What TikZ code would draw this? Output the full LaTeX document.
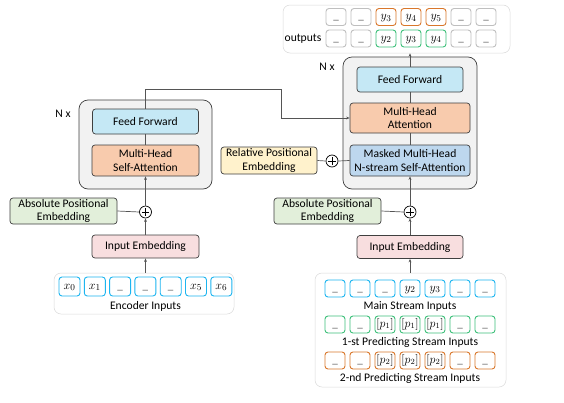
\documentclass[tikz,border=0pt]{standalone}
\usepackage{fontspec}
\setmainfont{Carlito}
\usetikzlibrary{arrows.meta}
\definecolor{bordc}{HTML}{3F3F3F}
\definecolor{linec}{HTML}{555555}
\definecolor{ffblue}{HTML}{C5E8F5}
\definecolor{mhaor}{HTML}{F8CBAD}
\definecolor{maskbl}{HTML}{BDD7EE}
\definecolor{relyel}{HTML}{FFF2CC}
\definecolor{absgr}{HTML}{E2EFDA}
\definecolor{embpk}{HTML}{F8DEDF}
\definecolor{contgr}{HTML}{F2F2F2}
\definecolor{inbord}{HTML}{D9D9D9}
\definecolor{cyanc}{HTML}{1CB5F0}
\definecolor{greenc}{HTML}{3EC07A}
\definecolor{orangec}{HTML}{D9772B}
\definecolor{grayc}{HTML}{BFBFBF}
\definecolor{blankc}{HTML}{595959}
\newcommand{\blankmark}{\textcolor{blankc}{\fontsize{11}{12}\selectfont\_}}
\begin{document}
\begin{tikzpicture}[x=1pt,y=-1pt,
  txt/.style={font=\fontsize{11.6}{13.3}\selectfont, inner sep=0pt, align=center},
  blk/.style={txt, draw=bordc, line width=0.7pt, rounded corners=3pt},
  container/.style={draw=bordc, fill=contgr, rounded corners=9pt, line width=0.7pt, inner sep=0pt},
  inbox/.style={draw=inbord, fill=white, rounded corners=7pt, line width=0.5pt, inner sep=0pt},
  cell/.style={draw=#1, line width=0.9pt, rounded corners=3pt, inner sep=0pt, minimum width=20pt, minimum height=17pt,
    text height=7.5pt, text depth=2.5pt, font=\fontsize{13}{14}\selectfont},
  conn/.style={draw=linec, line width=0.7pt},
  arr/.style={conn, -{Stealth[length=3.5pt,width=2.8pt]}},
  plus/.style={circle, draw=black, fill=white, minimum size=12pt, inner sep=0pt, line width=0.7pt,
    path picture={\draw[line width=0.7pt] ([xshift=-3.6pt]path picture bounding box.center) -- ([xshift=3.6pt]path picture bounding box.center);
      \draw[line width=0.7pt] ([yshift=-3.6pt]path picture bounding box.center) -- ([yshift=3.6pt]path picture bounding box.center);}}
]
\useasboundingbox (0,0) rectangle (564,402);

% ---------- Encoder ----------
\node[container, minimum width=133pt, minimum height=89pt] (lgray) at (145.5,144.5) {};
\node[txt] (lnx) at (63,114) {N x};
\node[blk, fill=ffblue, minimum width=106pt, minimum height=25pt] (lff) at (145.5,121.5) {Feed Forward};
\node[blk, fill=mhaor, minimum width=107pt, minimum height=31pt] (lmha) at (145.5,160.5) {Multi-Head\\Self-Attention};
\node[blk, fill=absgr, minimum width=107pt, minimum height=26pt] (labs) at (63.5,211) {Absolute Positional\\Embedding};
\node[plus] (lplus) at (145.5,212) {};
\node[blk, fill=embpk, minimum width=107pt, minimum height=23pt] (lemb) at (145.5,246.5) {Input Embedding};
\node[inbox, minimum width=180pt, minimum height=41pt] (lin) at (144,293.5) {};
\foreach \i/\t in {0/{$x_0$},1/{$x_1$},2/{\blankmark},3/{\blankmark},4/{\blankmark},5/{$x_5$},6/{$x_6$}}{
  \node[cell=cyanc, minimum width=21pt, minimum height=19pt] (lc\i) at (69.5+25.3*\i,286.5) {\t};
}
\node[txt] (llab) at (145.5,306) {Encoder Inputs};

\draw[arr] (lemb.south |- lin.north) -- (lemb.south);
\draw[arr] (lemb.north) -- (lplus.south);
\draw[arr] (lplus.north) -- (lmha.south);
\draw[conn] (labs.east) -- (lplus.west);
\draw[conn] (lmha.north) -- (lff.south);

% ---------- Decoder ----------
\node[container, minimum width=134pt, minimum height=132pt] (rgray) at (410,123) {};
\node[txt] (rnx) at (327,67) {N x};
\node[blk, fill=ffblue, minimum width=106pt, minimum height=25pt] (rff) at (410,79.5) {Feed Forward};
\node[blk, fill=mhaor, minimum width=120pt, minimum height=30pt] (rmha) at (410,118) {Multi-Head\\Attention};
\node[blk, fill=maskbl, minimum width=120pt, minimum height=31pt] (rmask) at (410,160.5) {Masked Multi-Head\\N-stream Self-Attention};
\node[blk, fill=relyel, minimum width=96pt, minimum height=27pt] (rrel) at (269,160.5) {Relative Positional\\Embedding};
\node[plus] (rplus1) at (332,161) {};
\node[blk, fill=absgr, minimum width=107pt, minimum height=26pt] (rabs) at (327.5,211) {Absolute Positional\\Embedding};
\node[plus] (rplus2) at (410,212) {};
\node[blk, fill=embpk, minimum width=106pt, minimum height=23pt] (remb) at (410,247) {Input Embedding};

\node[inbox, minimum width=191pt, minimum height=114pt] (rin) at (410.5,330) {};
\foreach \i/\t in {0/{\blankmark},1/{\blankmark},2/{\blankmark},3/{$y_2$},4/{$y_3$},5/{\blankmark},6/{\blankmark}}{
  \node[cell=cyanc] (ma\i) at (335+25*\i,288.5) {\t};
}
\node[txt] (malab) at (410,306) {Main Stream Inputs};
\foreach \i/\t in {0/{\blankmark},1/{\blankmark},2/{$[p_1]$},3/{$[p_1]$},4/{$[p_1]$},5/{\blankmark},6/{\blankmark}}{
  \node[cell=greenc, font=\fontsize{11.5}{12}\selectfont] (pa\i) at (335+25*\i,324.5) {\t};
}
\node[txt] (palab) at (410,342) {1-st Predicting Stream Inputs};
\foreach \i/\t in {0/{\blankmark},1/{\blankmark},2/{$[p_2]$},3/{$[p_2]$},4/{$[p_2]$},5/{\blankmark},6/{\blankmark}}{
  \node[cell=orangec, font=\fontsize{11.5}{12}\selectfont] (pb\i) at (335+25*\i,360.5) {\t};
}
\node[txt] (pblab) at (410,378) {2-nd Predicting Stream Inputs};

% ---------- Outputs ----------
\node[inbox, minimum width=227pt, minimum height=48pt] (obox) at (396.5,29) {};
\node[txt] (olab) at (303,39) {outputs};
\foreach \i/\t/\c in {0/{\blankmark}/grayc,1/{\blankmark}/grayc,2/{$y_3$}/orangec,3/{$y_4$}/orangec,4/{$y_5$}/orangec,5/{\blankmark}/grayc,6/{\blankmark}/grayc}{
  \node[cell=\c] (oa\i) at (336+25*\i,17) {\t};
}
\foreach \i/\t/\c in {0/{\blankmark}/grayc,1/{\blankmark}/grayc,2/{$y_2$}/greenc,3/{$y_3$}/greenc,4/{$y_4$}/greenc,5/{\blankmark}/grayc,6/{\blankmark}/grayc}{
  \node[cell=\c] (ob\i) at (336+25*\i,38.5) {\t};
}

% ---------- Decoder connectors ----------
\draw[arr] (remb.south |- rin.north) -- (remb.south);
\draw[arr] (remb.north) -- (rplus2.south);
\draw[arr] (rplus2.north) -- (rmask.south);
\draw[conn] (rabs.east) -- (rplus2.west);
\draw[conn] (rrel.east) -- (rplus1.west);
\draw[conn] (rplus1.east) -- (rmask.west);
\draw[conn] (rmask.north) -- (rmha.south);
\draw[conn] (rmha.north) -- (rff.south);
\draw[arr] (rff.north) -- (rff.north |- obox.south);
\coordinate (bendA) at (281,89);
\draw[arr] (lff.north) |- (bendA) |- (rmha.west);
\end{tikzpicture}
\end{document}
